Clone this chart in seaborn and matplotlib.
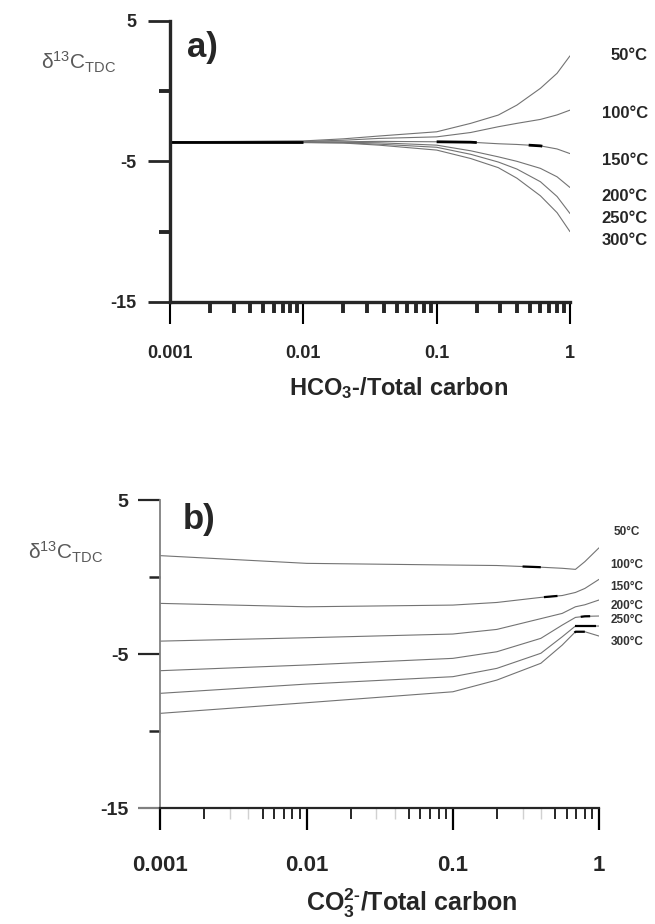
import numpy as np
import pandas as pd
import matplotlib
matplotlib.use("Agg")
import matplotlib.pyplot as plt
import matplotlib.transforms as mtransforms
from matplotlib.ticker import NullFormatter, LogLocator
import seaborn as sns

# ---- data ----
temps = ["50°C", "100°C", "150°C", "200°C", "250°C", "300°C"]

# a) d13C of TDC vs HCO3-/total carbon
x_a = [0.001, 0.01, 0.02, 0.037, 0.1, 0.18, 0.29, 0.4, 0.6, 0.8, 1.0]
a_50 = [-3.61, -3.55, -3.40, -3.20, -2.90, -2.30, -1.71, -1.00, 0.19, 1.26, 2.50]
a_100 = [-3.61, -3.58, -3.50, -3.37, -3.26, -2.95, -2.54, -2.30, -2.02, -1.70, -1.36]
a_150 = [-3.61, -3.61, -3.61, -3.58, -3.61, -3.64, -3.75, -3.80, -3.90, -4.12, -4.45]
a_200 = [-3.61, -3.63, -3.65, -3.68, -3.85, -4.25, -4.68, -5.00, -5.50, -6.10, -6.86]
a_250 = [-3.61, -3.65, -3.68, -3.78, -4.00, -4.50, -5.05, -5.55, -6.45, -7.50, -8.71]
a_300 = [-3.61, -3.67, -3.70, -3.85, -4.20, -4.80, -5.45, -6.20, -7.45, -8.65, -10.0]
label_y_a = [2.56, -1.57, -4.91, -7.47, -9.04, -10.6]
# short dark strokes on some curves: (series, x from, x to)
dark_a = [("150°C", 0.001, 0.01), ("150°C", 0.1, 0.2), ("150°C", 0.49, 0.62)]

# b) d13C of TDC vs CO3 2-/total carbon
x_b = [0.001, 0.01, 0.1, 0.2, 0.4, 0.56, 0.69, 0.8, 1.0]
b_50 = [1.39, 0.89, 0.78, 0.75, 0.64, 0.57, 0.50, 1.00, 1.90]
b_100 = [-1.71, -1.93, -1.82, -1.65, -1.32, -1.20, -1.00, -0.74, -0.15]
b_150 = [-4.16, -3.94, -3.70, -3.40, -2.70, -2.36, -1.93, -1.80, -1.49]
b_200 = [-6.08, -5.71, -5.28, -4.85, -3.98, -3.12, -2.62, -2.55, -2.53]
b_250 = [-7.55, -6.95, -6.47, -5.93, -4.95, -3.88, -3.18, -3.18, -3.18]
b_300 = [-8.85, -8.16, -7.45, -6.69, -5.60, -4.42, -3.55, -3.55, -3.83]
label_y_b = [2.94, 0.78, -0.65, -1.88, -2.79, -4.2]
dark_b = [("50°C", 0.3, 0.4), ("100°C", 0.42, 0.52), ("200°C", 0.75, 0.87),
          ("250°C", 0.69, 0.95), ("300°C", 0.68, 0.8)]

xticks = [0.001, 0.01, 0.1, 1]
xtick_labels = ["0.001", "0.01", "0.1", "1"]
yticks = [5, -5, -15]
ytick_labels = ["5", "-5", "-15"]
yminor = [0, -10]


def long_df(x, series):
    rows = []
    for t, vals in zip(temps, series):
        for xi, yi in zip(x, vals):
            rows.append({"x": xi, "d13C": yi, "T": t})
    return pd.DataFrame(rows)


df_a = long_df(x_a, [a_50, a_100, a_150, a_200, a_250, a_300])
df_b = long_df(x_b, [b_50, b_100, b_150, b_200, b_250, b_300])

sns.set_style("ticks")
plt.rcParams["font.family"] = ["Liberation Sans", "DejaVu Sans"]
plt.rcParams["mathtext.fontset"] = "custom"
plt.rcParams["mathtext.rm"] = "Liberation Sans"
plt.rcParams["mathtext.bf"] = "Liberation Sans:bold"
plt.rcParams["mathtext.it"] = "Liberation Sans:italic"

fig = plt.figure(figsize=(6.55, 9.24), dpi=100)
ax_a = fig.add_axes([0.2595, 0.6732, 0.6107, 0.3044])
ax_b = fig.add_axes([0.245, 0.1255, 0.6695, 0.3333])

grey_pal = {t: "0.45" for t in temps}


def draw_dark(ax, df, segs, lw):
    for t, x0, x1 in segs:
        d = df[df["T"] == t]
        lx = np.log10(d["x"].values)
        xs = np.linspace(np.log10(x0), np.log10(x1), 20)
        ys = np.interp(xs, lx, d["d13C"].values)
        ax.plot(10 ** xs, ys, color="black", lw=lw, solid_capstyle="butt")


def style_axis(ax, spine_lw, xlab_size, ylab_size, xpad, ypad):
    ax.set_xscale("log")
    ax.set_xlim(0.001, 1)
    ax.set_ylim(-15, 5)
    sns.despine(ax=ax)
    ax.spines["left"].set_linewidth(spine_lw)
    ax.spines["bottom"].set_linewidth(spine_lw)
    ax.set_xticks(xticks, labels=xtick_labels)
    ax.xaxis.set_minor_locator(LogLocator(base=10, subs=np.arange(2, 10)))
    ax.xaxis.set_minor_formatter(NullFormatter())
    ax.set_yticks(yticks, labels=ytick_labels)
    ax.set_yticks(yminor, minor=True)
    ax.tick_params(axis="x", which="major", length=16, width=1.5, pad=xpad,
                   labelsize=xlab_size, direction="out", color="black")
    ax.tick_params(axis="x", which="minor", length=8, width=2.8, direction="out")
    ax.tick_params(axis="y", which="major", length=16, width=2, pad=ypad,
                   labelsize=ylab_size)
    ax.tick_params(axis="y", which="minor", length=8, width=2.8)
    for lab in ax.get_xticklabels() + ax.get_yticklabels():
        lab.set_fontweight("bold")
    ax.set_xlabel("")
    ax.set_ylabel("")


# ---- panel a ----
sns.lineplot(data=df_a, x="x", y="d13C", hue="T", palette=grey_pal,
             linewidth=0.8, legend=False, ax=ax_a)
draw_dark(ax_a, df_a, dark_a, 2.0)
style_axis(ax_a, 2.4, 13, 13, 15, 8)
ax_a.set_xlabel(r"HCO$_\mathbf{3}$-/Total carbon", fontsize=17, fontweight="bold")
ax_a.xaxis.set_label_coords(0.5725, -0.306)
ax_a.xaxis.label.set_va("center")
ax_a.text(0.08, 0.906, "a)", transform=ax_a.transAxes, fontsize=25,
          fontweight="bold", ha="center", va="center")
trans_a = mtransforms.blended_transform_factory(ax_a.transAxes, ax_a.transData)
for t, y in zip(temps, label_y_a):
    ax_a.text(1.195, y, t, transform=trans_a, ha="right", va="center",
              fontsize=12, fontweight="bold", clip_on=False)
fig.text(0.12, 0.933, r"$\mathrm{\delta}^{13}$C$_{\mathrm{TDC}}$", fontsize=15,
         color="0.35", ha="center", va="center")

# ---- panel b ----
sns.lineplot(data=df_b, x="x", y="d13C", hue="T", palette=grey_pal,
             linewidth=0.8, legend=False, ax=ax_b)
draw_dark(ax_b, df_b, dark_b, 1.6)
style_axis(ax_b, 1.6, 16, 14, 18, 7)
ax_b.spines["left"].set_color("0.5")
ax_b.spines["left"].set_linewidth(1.3)
ax_b.tick_params(axis="x", which="minor", width=1.4)
ax_b.tick_params(axis="x", which="major", width=1.6)
ax_b.tick_params(axis="y", which="major", width=1.6)
ax_b.tick_params(axis="y", which="minor", width=1.8)
ax_b.set_xlabel("CO$_\\mathbf{3}^\\mathbf{2\u2010}$/Total carbon", fontsize=18,
                fontweight="bold")
ax_b.xaxis.set_label_coords(0.573, -0.308)
ax_b.xaxis.label.set_va("center")
ax_b.text(0.088, 0.938, "b)", transform=ax_b.transAxes, fontsize=25,
          fontweight="bold", ha="center", va="center")
trans_b = mtransforms.blended_transform_factory(ax_b.transAxes, ax_b.transData)
for t, y in zip(temps, label_y_b):
    ax_b.text(1.064, y, t, transform=trans_b, ha="center", va="center",
              fontsize=8.5, fontweight="bold", color="0.2", clip_on=False)
fig.text(0.10, 0.4026, r"$\mathrm{\delta}^{13}$C$_{\mathrm{TDC}}$", fontsize=15,
         color="0.35", ha="center", va="center")

# grey out a few ticks on panel b, as in the original
fig.canvas.draw()
for tk, loc in zip(ax_b.yaxis.get_major_ticks(), ax_b.get_yticks()):
    if loc == -15:
        tk.tick1line.set_markeredgecolor("0.5")
minor_locs = ax_b.xaxis.get_minorticklocs()
for tk, loc in zip(ax_b.xaxis.get_minor_ticks(len(minor_locs)), minor_locs):
    mant = round(loc / 10 ** np.floor(np.log10(loc) + 1e-9))
    if mant in (3, 4):
        tk.tick1line.set_markeredgecolor("0.82")
        tk.tick1line.set_markeredgewidth(1.0)

fig.savefig("out.png", dpi=100)
